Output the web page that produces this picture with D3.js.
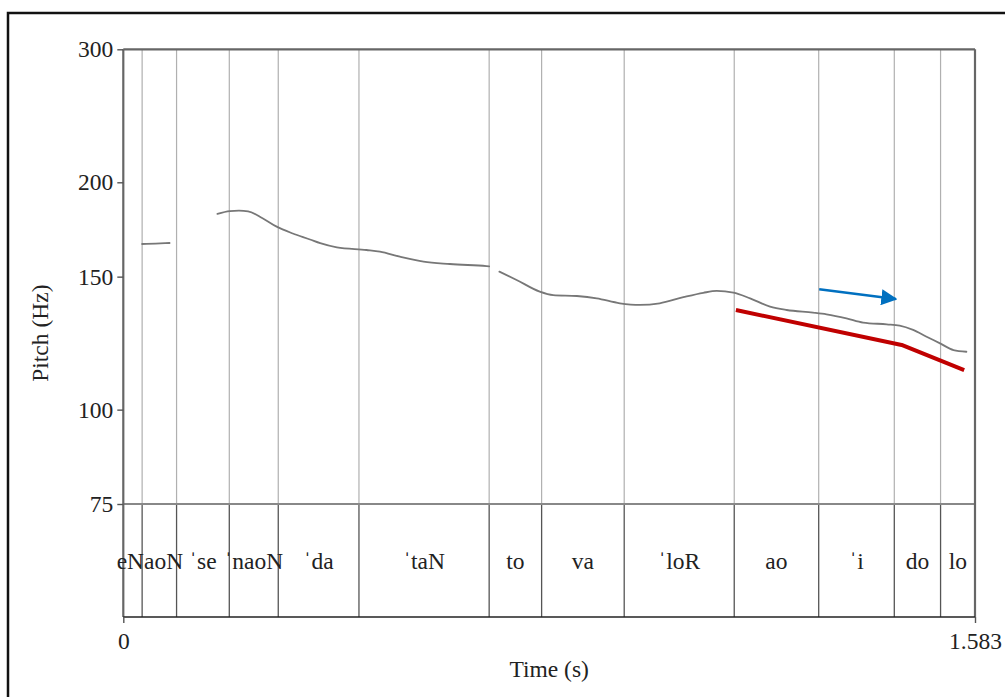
<!DOCTYPE html>
<html>
<head>
<meta charset="utf-8">
<title>Pitch contour with syllable tier</title>
<script src="https://cdn.jsdelivr.net/npm/d3@7"></script>
<style>
  html, body { margin: 0; padding: 0; background: #fff; }
  svg { display: block; }
  text { font-family: "Liberation Serif", "Times New Roman", "DejaVu Serif", serif; fill: #222; }
</style>
</head>
<body>
<svg id="chart" width="1005" height="697"></svg>
<script>
// ---- data -------------------------------------------------------------
const timeRange = [0, 1.583];          // seconds
const pitchRange = [75, 300];          // Hz (log scale)
const pitchTicks = [75, 100, 150, 200, 300];
const timeTicks = [0, 1.583];

// F0 contour, voiced stretches as [time (s), pitch (Hz)]
const pitchSegment1 = [[0.035, 165.7], [0.060, 165.9], [0.086, 166.2]];
const pitchSegment2 = [
  [0.175, 181.6], [0.198, 183.2], [0.215, 183.4], [0.232, 183.0], [0.258, 179.4],
  [0.285, 174.7], [0.315, 171.1], [0.347, 168.0], [0.366, 166.1], [0.397, 164.0],
  [0.452, 162.7], [0.477, 161.9], [0.514, 159.4], [0.558, 157.0], [0.607, 155.9],
  [0.675, 154.9], [0.680, 154.8]
];
const pitchSegment3 = [
  [0.699, 152.3], [0.731, 148.5], [0.774, 143.3], [0.799, 141.8], [0.843, 141.4],
  [0.880, 140.4], [0.923, 138.3], [0.960, 137.6], [0.997, 138.3], [1.041, 140.9],
  [1.078, 142.8], [1.103, 143.6], [1.134, 142.9], [1.165, 140.4], [1.202, 136.9],
  [1.233, 135.5], [1.282, 134.4], [1.307, 133.7], [1.344, 132.1], [1.375, 130.4],
  [1.419, 129.7], [1.443, 129.2], [1.468, 127.5], [1.493, 124.9], [1.518, 122.4],
  [1.543, 119.9], [1.567, 119.3]
];
const pitchSegments = [pitchSegment1, pitchSegment2, pitchSegment3];

// syllable tier
const boundaries = [0.035, 0.099, 0.197, 0.288, 0.438, 0.680, 0.7775, 0.931, 1.1355, 1.2925, 1.433, 1.519];
const syllableStarts = [0, 0.099, 0.197, 0.288, 0.438, 0.680, 0.7775, 0.931, 1.1355, 1.2925, 1.433, 1.519];
const syllableEnds   = [0.099, 0.197, 0.288, 0.438, 0.680, 0.7775, 0.931, 1.1355, 1.2925, 1.433, 1.519, 1.583];
const syllableLabels = ["eNaoN", "ˈse", "ˈnaoN", "ˈda", "ˈtaN", "to", "va", "ˈloR", "ao", "ˈi", "do", "lo"];

// annotations: declination line and arrow
const declinationLine = [[1.1386, 135.5], [1.4466, 121.8], [1.5629, 112.8]];
const arrowLine = [[1.2934, 144.3], [1.436, 140.1]];

// ---- layout -----------------------------------------------------------
const svg = d3.select("#chart");
const plotLeft = 123.3, plotRight = 975, plotTop = 49.3, pitchBottom = 504, tierBottom = 617;
const fontSize = 23.5;

const x = d3.scaleLinear().domain(timeRange).range([plotLeft, plotRight]);
const y = d3.scaleLog().domain(pitchRange).range([pitchBottom, plotTop]);

// outer frame
svg.append("rect")
  .attr("x", 8).attr("y", 13)
  .attr("width", 1100).attr("height", 800)
  .attr("fill", "none").attr("stroke", "#111").attr("stroke-width", 2.5);

// boundaries through the pitch area (light) and tier area (dark)
svg.append("g").selectAll("line").data(boundaries).join("line")
  .attr("x1", d => x(d)).attr("x2", d => x(d))
  .attr("y1", plotTop).attr("y2", pitchBottom)
  .attr("stroke", "#b0b0b0").attr("stroke-width", 1.2);
svg.append("g").selectAll("line").data(boundaries).join("line")
  .attr("x1", d => x(d)).attr("x2", d => x(d))
  .attr("y1", pitchBottom).attr("y2", tierBottom)
  .attr("stroke", "#555").attr("stroke-width", 1.3);

// tier separator at the bottom of the pitch range
svg.append("line")
  .attr("x1", plotLeft).attr("x2", plotRight)
  .attr("y1", pitchBottom).attr("y2", pitchBottom)
  .attr("stroke", "#888").attr("stroke-width", 1.8);

// plot box
svg.append("line").attr("x1", plotLeft).attr("x2", plotRight).attr("y1", plotTop).attr("y2", plotTop)
  .attr("stroke", "#666").attr("stroke-width", 2.2);
svg.append("line").attr("x1", plotRight).attr("x2", plotRight).attr("y1", plotTop).attr("y2", tierBottom)
  .attr("stroke", "#666").attr("stroke-width", 2.2);
svg.append("line").attr("x1", plotLeft).attr("x2", plotLeft).attr("y1", plotTop).attr("y2", tierBottom)
  .attr("stroke", "#666").attr("stroke-width", 2.2);
svg.append("line").attr("x1", plotLeft).attr("x2", plotRight).attr("y1", tierBottom).attr("y2", tierBottom)
  .attr("stroke", "#222").attr("stroke-width", 1.6);

// y axis
const yAxis = svg.append("g")
  .attr("transform", `translate(${plotLeft},0)`)
  .call(d3.axisLeft(y).tickValues(pitchTicks).tickFormat(d3.format("d")).tickSize(6).tickPadding(4));
yAxis.select(".domain").remove();
yAxis.selectAll(".tick line").attr("stroke", "#555").attr("stroke-width", 1.4);
yAxis.selectAll(".tick text")
  .attr("font-family", "Liberation Serif, Times New Roman, serif")
  .attr("font-size", fontSize).attr("fill", "#222");

// x axis
const xAxis = svg.append("g")
  .attr("transform", `translate(0,${tierBottom})`)
  .call(d3.axisBottom(x).tickValues(timeTicks).tickFormat(d => d === 0 ? "0" : d3.format(".3f")(d)).tickSize(6).tickPadding(9));
xAxis.select(".domain").remove();
xAxis.selectAll(".tick line").attr("stroke", "#555").attr("stroke-width", 1.4);
xAxis.selectAll(".tick text")
  .attr("font-family", "Liberation Serif, Times New Roman, serif")
  .attr("font-size", fontSize).attr("fill", "#222");

// axis titles
svg.append("text")
  .attr("transform", `translate(40,${(plotTop + tierBottom) / 2}) rotate(-90)`)
  .attr("text-anchor", "middle").attr("dy", "0.35em")
  .attr("font-size", fontSize).text("Pitch (Hz)");
svg.append("text")
  .attr("x", (plotLeft + plotRight) / 2).attr("y", 669)
  .attr("text-anchor", "middle").attr("dy", "0.35em")
  .attr("font-size", fontSize).text("Time (s)");

// syllable labels
svg.append("g").selectAll("text").data(syllableLabels).join("text")
  .attr("x", (d, i) => x((syllableStarts[i] + syllableEnds[i]) / 2))
  .attr("y", (pitchBottom + tierBottom) / 2)
  .attr("dy", "0.35em")
  .attr("text-anchor", "middle")
  .attr("font-size", fontSize)
  .text(d => d);

// pitch contour
const line = d3.line().x(d => x(d[0])).y(d => y(d[1])).curve(d3.curveMonotoneX);
svg.append("g").selectAll("path").data(pitchSegments).join("path")
  .attr("d", line)
  .attr("fill", "none").attr("stroke", "#777").attr("stroke-width", 1.8)
  .attr("stroke-linejoin", "round").attr("stroke-linecap", "round");

// declination line
svg.append("path")
  .attr("d", d3.line().x(d => x(d[0])).y(d => y(d[1]))(declinationLine))
  .attr("fill", "none").attr("stroke", "#c00000").attr("stroke-width", 4)
  .attr("stroke-linejoin", "round");

// arrow
const defs = svg.append("defs");
defs.append("marker")
  .attr("id", "arrowhead")
  .attr("viewBox", "0 0 10 10").attr("refX", 9).attr("refY", 5)
  .attr("markerWidth", 6.5).attr("markerHeight", 6.5)
  .attr("markerUnits", "strokeWidth")
  .attr("orient", "auto")
  .append("path").attr("d", "M0,0 L10,5 L0,10 Z").attr("fill", "#0070c0");
svg.append("path")
  .attr("d", d3.line().x(d => x(d[0])).y(d => y(d[1]))(arrowLine))
  .attr("fill", "none").attr("stroke", "#0070c0").attr("stroke-width", 2.5)
  .attr("marker-end", "url(#arrowhead)");
</script>
</body>
</html>
